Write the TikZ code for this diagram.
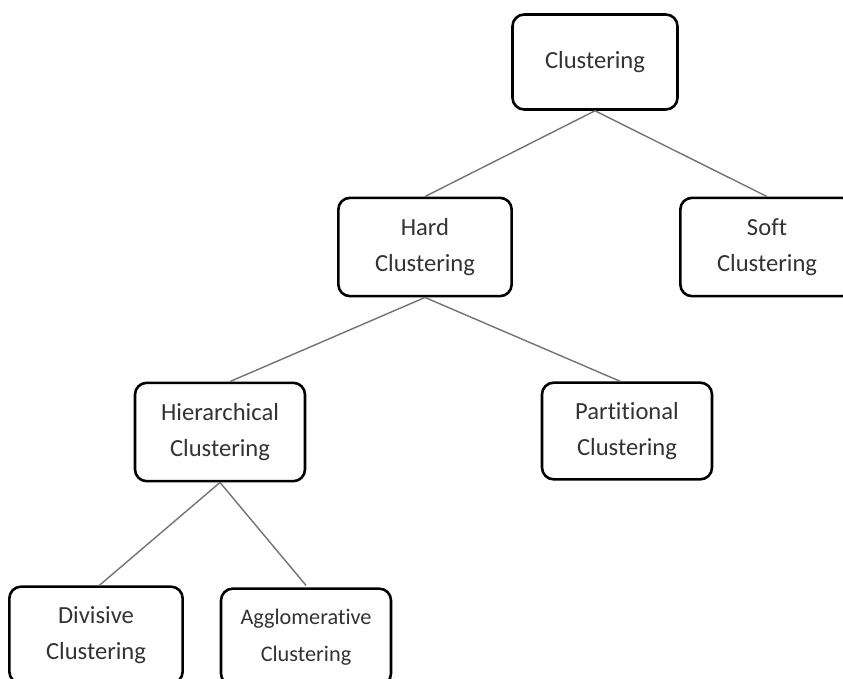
\documentclass[tikz,border=0pt]{standalone}
\usepackage{fontspec}
\setmainfont[RawFeature={-liga;-calt;-clig}]{Carlito}
\definecolor{boxtext}{HTML}{333333}
\tikzset{
    cluster/.style={draw=black, line width=2.2pt, rounded corners=10pt, fill=white,
        text=boxtext, align=center, minimum width=5.1cm, minimum height=2.9cm,
        font=\fontsize{21}{31}\selectfont},
    link/.style={draw=black!55, line width=1.2pt}
}

\begin{document}
\begin{tikzpicture}[x=0.03cm, y=-0.03cm]
    \useasboundingbox (0,0) rectangle (843,679);

    % Wurzel
    \node[cluster, minimum width=4.95cm, minimum height=2.85cm] (clu) at (595,62) {Clustering};

    % Erste Ebene
    \node[cluster, minimum width=5.2cm, minimum height=2.95cm] (hard) at (425,247) {Hard\\Clustering};
    \node[cluster, minimum width=5.2cm, minimum height=2.95cm] (soft) at (767,247) {Soft\\Clustering};

    % Zweite Ebene
    \node[cluster, minimum height=2.95cm] (hier) at (220,432) {Hierarchical\\Clustering};
    \node[cluster] (part) at (627,431) {Partitional\\Clustering};

    % Dritte Ebene (unten abgeschnitten)
    \node[cluster, minimum width=5.2cm] (div) at (96,635) {Divisive\\Clustering};
    \node[cluster, font=\fontsize{19}{32}\selectfont] (agg) at (306,637) {Agglomerative\\Clustering};

    % Verbindungen
    \draw[link] (clu.south) -- (hard.north);
    \draw[link] (clu.south) -- (soft.north);
    \draw[link] (hard.south) -- ([xshift=0.3cm]hier.north);
    \draw[link] (hard.south) -- ([xshift=-0.2cm]part.north);
    \draw[link] (hier.south) -- ([xshift=0.1cm]div.north);
    \draw[link] (hier.south) -- ([yshift=0.06cm]agg.north);
\end{tikzpicture}
\end{document}
